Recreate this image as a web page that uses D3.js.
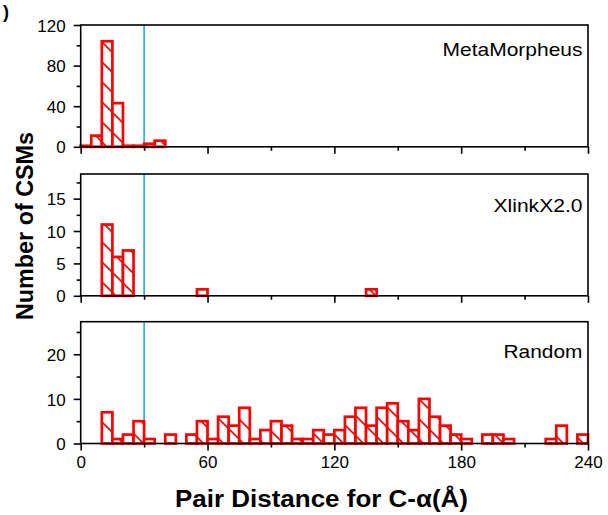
<!DOCTYPE html>
<html><head><meta charset="utf-8">
<script src="https://cdn.jsdelivr.net/npm/d3@7"></script>
<style>body{margin:0;background:#fff}svg{display:block}text{font-family:"Liberation Sans",Arial,sans-serif}</style>
</head><body><svg id="c" width="608" height="515"></svg>
<script>
// ---- data ----
const binWidth = 5;
const binStarts = d3.range(0, 240, binWidth);
const metaMorpheus = [1,11,104,43,1,1,3,6, 0,0,0,0,0,0,0,0, 0,0,0,0,0,0,0,0, 0,0,0,0,0,0,0,0, 0,0,0,0,0,0,0,0, 0,0,0,0,0,0,0,0];
const xlinkX = [0,0,11,6,7,0,0,0, 0,0,0,1,0,0,0,0, 0,0,0,0,0,0,0,0, 0,0,0,1,0,0,0,0, 0,0,0,0,0,0,0,0, 0,0,0,0,0,0,0,0];
const randomSet = [0,0,7,1,2,5,1,0, 2,0,2,5,1,6,4,8, 1,3,5,4,1,1,3,2, 3,6,8,4,8,9,5,3, 10,6,4,2,1,0,2,2, 1,0,0,0,1,4,0,2];
const panelNames = ["MetaMorpheus", "XlinkX2.0", "Random"];
const yMaxes = [120, 18.8, 27.3];
const yMajor = [[0,40,80,120],[0,5,10,15],[0,10,20]];
const yMinor = [[20,60,100],[2.5,7.5,12.5,17.5],[5,15,25]];
const xMajor = [0,60,120,180,240];
const xMinor = [30,90,150,210];
const cutoff = 30;
const xTitle = "Pair Distance for C-\u03b1(\u00c5)";
const yTitle = "Number of CSMs";

// ---- layout ----
const svg = d3.select("#c");
const left = 80.7, right = 588;
const panelTops = [25, 174, 321.7];
const panelH = 121.8;
const x = d3.scaleLinear().domain([0,240]).range([left,right]);
const seriesList = [metaMorpheus, xlinkX, randomSet];
const red = "#ff0000";

const defs = svg.append("defs");
const pat = defs.append("pattern").attr("id","hatch").attr("patternUnits","userSpaceOnUse")
  .attr("width",20).attr("height",20);
pat.append("rect").attr("width",20).attr("height",20).attr("fill","#fff");
pat.append("path").attr("d","M0,0L20,20M-3,17L3,23M17,-3L23,3")
  .attr("stroke",red).attr("stroke-width",1.6).attr("fill","none");

// corner label fragment
svg.append("text").attr("x",3).attr("y",18).attr("font-size",18).attr("font-weight","bold").text(")");

seriesList.forEach((vals, i) => {
  const top = panelTops[i], bottom = top + panelH;
  const y = d3.scaleLinear().domain([0, yMaxes[i]]).range([bottom, top]);
  const g = svg.append("g");

  // cutoff line
  g.append("line").attr("x1",x(cutoff)).attr("x2",x(cutoff)).attr("y1",top).attr("y2",bottom)
    .attr("stroke","#29a3e6").attr("stroke-width",1.6);

  // bars
  const data = binStarts.map((s,k)=>({s, v: vals[k]})).filter(d=>d.v>0);
  g.selectAll("rect.bar").data(data).join("rect").attr("class","bar")
    .attr("x", d=>x(d.s)).attr("width", d=>x(d.s+binWidth)-x(d.s))
    .attr("y", d=>y(d.v)).attr("height", d=>y(0)-y(d.v))
    .attr("fill","url(#hatch)").attr("stroke",red).attr("stroke-width",2.7);

  // frame
  g.append("rect").attr("x",left).attr("y",top).attr("width",right-left).attr("height",panelH)
    .attr("fill","none").attr("stroke","#000").attr("stroke-width",1.6);

  // x axis
  const xa = g.append("g").attr("transform",`translate(0,${bottom})`)
    .call(d3.axisBottom(x).tickValues(xMajor).tickSize(7).tickSizeOuter(0)
      .tickFormat(i===2 ? d3.format("d") : ()=>""));
  const xm = g.append("g").attr("transform",`translate(0,${bottom})`)
    .call(d3.axisBottom(x).tickValues(xMinor).tickSize(4).tickSizeOuter(0).tickFormat(()=>""));
  // y axis
  const ya = g.append("g").attr("transform",`translate(${left},0)`)
    .call(d3.axisLeft(y).tickValues(yMajor[i]).tickSize(7).tickSizeOuter(0).tickPadding(8)
      .tickFormat(d3.format("d")));
  const ym = g.append("g").attr("transform",`translate(${left},0)`)
    .call(d3.axisLeft(y).tickValues(yMinor[i]).tickSize(4).tickSizeOuter(0).tickFormat(()=>""));
  [xa,xm,ya,ym].forEach(a=>{
    a.select(".domain").remove();
    a.selectAll(".tick line").attr("stroke","#000").attr("stroke-width",1.6);
    a.selectAll("text").attr("font-size",17).attr("fill","#000")
      .attr("font-family",'"Liberation Sans",Arial,sans-serif');
  });
  xa.selectAll("text").attr("dy",null).attr("y",24);
  ya.selectAll("text").attr("dy","0.36em");

  // panel label
  const labelY = [56, 212, 358][i];
  const labelW = [140, 89, 79][i];
  g.append("text").attr("x",582.5).attr("y",labelY).attr("text-anchor","end")
    .attr("font-size",19).attr("textLength",labelW).attr("lengthAdjust","spacingAndGlyphs")
    .text(panelNames[i]);
});

// axis titles
svg.append("text").attr("x",321.5).attr("y",507).attr("text-anchor","middle")
  .attr("font-size",23).attr("font-weight","bold")
  .attr("textLength",293).attr("lengthAdjust","spacingAndGlyphs").text(xTitle);
svg.append("text").attr("transform","translate(33,226) rotate(-90)").attr("text-anchor","middle")
  .attr("font-size",23).attr("font-weight","bold")
  .attr("textLength",188).attr("lengthAdjust","spacingAndGlyphs").text(yTitle);
</script></body></html>
